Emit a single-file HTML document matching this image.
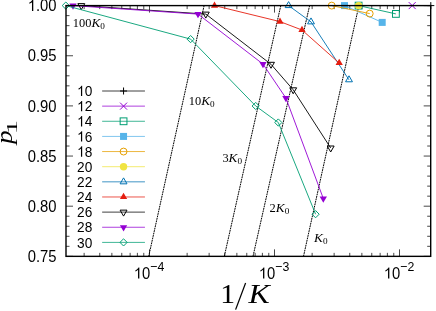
<!DOCTYPE html>
<html><head><meta charset="utf-8"><title>p1 vs 1/K</title>
<style>
html,body{margin:0;padding:0;background:#fff;}
body{width:436px;height:311px;overflow:hidden;position:relative;}
.t{font-family:"Liberation Sans",sans-serif;font-size:15.6px;fill:#000;}
.sup{font-family:"Liberation Sans",sans-serif;font-size:13.0px;fill:#000;}
.k{font-family:"Liberation Serif",serif;font-size:12.4px;fill:#000;}
.ks{font-size:9.2px;}
.lg{font-size:14.4px;}
.kk{font-size:13.3px;}
.ax{font-family:"Liberation Serif",serif;font-size:26.5px;fill:#000;}
.axs{font-size:18px;}
</style></head><body>
<svg width="436" height="311" viewBox="0 0 436 311" style="position:absolute;left:0;top:0;opacity:0.999;will-change:transform">
<rect x="0" y="0" width="436" height="311" fill="#ffffff"/>
<path d="M66.00 256.35h7.00M430.70 256.35h-7.00M66.00 246.32h3.50M430.70 246.32h-3.50M66.00 236.29h3.50M430.70 236.29h-3.50M66.00 226.26h3.50M430.70 226.26h-3.50M66.00 216.23h3.50M430.70 216.23h-3.50M66.00 206.20h7.00M430.70 206.20h-7.00M66.00 196.17h3.50M430.70 196.17h-3.50M66.00 186.14h3.50M430.70 186.14h-3.50M66.00 176.11h3.50M430.70 176.11h-3.50M66.00 166.08h3.50M430.70 166.08h-3.50M66.00 156.05h7.00M430.70 156.05h-7.00M66.00 146.02h3.50M430.70 146.02h-3.50M66.00 135.99h3.50M430.70 135.99h-3.50M66.00 125.96h3.50M430.70 125.96h-3.50M66.00 115.93h3.50M430.70 115.93h-3.50M66.00 105.90h7.00M430.70 105.90h-7.00M66.00 95.87h3.50M430.70 95.87h-3.50M66.00 85.84h3.50M430.70 85.84h-3.50M66.00 75.81h3.50M430.70 75.81h-3.50M66.00 65.78h3.50M430.70 65.78h-3.50M66.00 55.75h7.00M430.70 55.75h-7.00M66.00 45.72h3.50M430.70 45.72h-3.50M66.00 35.69h3.50M430.70 35.69h-3.50M66.00 25.66h3.50M430.70 25.66h-3.50M66.00 15.63h3.50M430.70 15.63h-3.50M66.00 5.60h7.00M430.70 5.60h-7.00M84.14 256.35v-3.50M84.14 5.60v3.50M99.76 256.35v-3.50M99.76 5.60v3.50M111.87 256.35v-3.50M111.87 5.60v3.50M121.77 256.35v-3.50M121.77 5.60v3.50M130.14 256.35v-3.50M130.14 5.60v3.50M137.39 256.35v-3.50M137.39 5.60v3.50M143.78 256.35v-3.50M143.78 5.60v3.50M149.50 256.35v-7.00M149.50 5.60v7.00M187.13 256.35v-3.50M187.13 5.60v3.50M209.14 256.35v-3.50M209.14 5.60v3.50M224.76 256.35v-3.50M224.76 5.60v3.50M236.87 256.35v-3.50M236.87 5.60v3.50M246.77 256.35v-3.50M246.77 5.60v3.50M255.14 256.35v-3.50M255.14 5.60v3.50M262.39 256.35v-3.50M262.39 5.60v3.50M268.78 256.35v-3.50M268.78 5.60v3.50M274.50 256.35v-7.00M274.50 5.60v7.00M312.13 256.35v-3.50M312.13 5.60v3.50M334.14 256.35v-3.50M334.14 5.60v3.50M349.76 256.35v-3.50M349.76 5.60v3.50M361.87 256.35v-3.50M361.87 5.60v3.50M371.77 256.35v-3.50M371.77 5.60v3.50M380.14 256.35v-3.50M380.14 5.60v3.50M387.39 256.35v-3.50M387.39 5.60v3.50M393.78 256.35v-3.50M393.78 5.60v3.50M399.50 256.35v-7.00M399.50 5.60v7.00" stroke="#000" stroke-width="0.72" fill="none"/>
<line x1="358.90" y1="5.60" x2="303.50" y2="256.35" stroke="#000" stroke-width="1" stroke-dasharray="1.8,0.7"/>
<line x1="309.60" y1="5.60" x2="253.00" y2="256.35" stroke="#000" stroke-width="1" stroke-dasharray="1.8,0.7"/>
<line x1="280.80" y1="5.60" x2="224.30" y2="256.35" stroke="#000" stroke-width="1" stroke-dasharray="1.8,0.7"/>
<line x1="204.10" y1="5.60" x2="148.70" y2="256.35" stroke="#000" stroke-width="1" stroke-dasharray="1.8,0.7"/>
<path d="M427.30 5.60H434.30M430.80 2.10V9.10" fill="none" stroke="#000000" stroke-width="1"/>
<path d="M408.70 2.10L415.70 9.10M408.70 9.10L415.70 2.10" fill="none" stroke="#9400d3" stroke-width="1"/>
<polyline points="358.60,5.60 395.90,13.90" fill="none" stroke="#009e73" stroke-width="0.9"/>
<rect x="355.20" y="2.20" width="6.80" height="6.80" fill="none" stroke="#009e73" stroke-width="1"/>
<rect x="392.50" y="10.50" width="6.80" height="6.80" fill="none" stroke="#009e73" stroke-width="1"/>
<polyline points="344.50,5.60 382.20,22.40" fill="none" stroke="#56b4e9" stroke-width="0.9"/>
<rect x="341.00" y="2.10" width="7.00" height="7.00" fill="#56b4e9"/>
<rect x="378.70" y="18.90" width="7.00" height="7.00" fill="#56b4e9"/>
<polyline points="331.70,5.60 369.70,13.60" fill="none" stroke="#e69f00" stroke-width="0.9"/>
<circle cx="331.70" cy="5.60" r="3.45" fill="none" stroke="#e69f00" stroke-width="1"/>
<circle cx="369.70" cy="13.60" r="3.45" fill="none" stroke="#e69f00" stroke-width="1"/>
<circle cx="358.60" cy="5.60" r="3.7" fill="#f0e442"/>
<polyline points="288.60,5.60 311.00,21.90 349.00,79.80" fill="none" stroke="#0072b2" stroke-width="0.9"/>
<path d="M288.60 1.62L292.05 7.59L285.15 7.59Z" fill="none" stroke="#0072b2" stroke-width="1"/>
<path d="M311.00 17.92L314.45 23.89L307.55 23.89Z" fill="none" stroke="#0072b2" stroke-width="1"/>
<path d="M349.00 75.82L352.45 81.79L345.55 81.79Z" fill="none" stroke="#0072b2" stroke-width="1"/>
<polyline points="214.50,5.60 280.00,21.60 302.00,30.00 339.20,63.00" fill="none" stroke="#e51e10" stroke-width="0.9"/>
<path d="M214.50 1.39L218.15 7.71L210.85 7.71Z" fill="#e51e10"/>
<path d="M280.00 17.39L283.65 23.71L276.35 23.71Z" fill="#e51e10"/>
<path d="M302.00 25.79L305.65 32.11L298.35 32.11Z" fill="#e51e10"/>
<path d="M339.20 58.79L342.85 65.11L335.55 65.11Z" fill="#e51e10"/>
<polyline points="81.30,5.60 205.80,14.10 271.00,64.30 293.20,89.80 330.70,148.00" fill="none" stroke="#000000" stroke-width="0.9"/>
<path d="M81.30 9.58L84.75 3.61L77.85 3.61Z" fill="none" stroke="#000000" stroke-width="1"/>
<path d="M205.80 18.08L209.25 12.11L202.35 12.11Z" fill="none" stroke="#000000" stroke-width="1"/>
<path d="M271.00 68.28L274.45 62.31L267.55 62.31Z" fill="none" stroke="#000000" stroke-width="1"/>
<path d="M293.20 93.78L296.65 87.81L289.75 87.81Z" fill="none" stroke="#000000" stroke-width="1"/>
<path d="M330.70 151.98L334.15 146.01L327.25 146.01Z" fill="none" stroke="#000000" stroke-width="1"/>
<polyline points="73.00,5.60 198.00,14.10 263.00,64.10 285.90,98.00 323.30,198.50" fill="none" stroke="#9400d3" stroke-width="0.9"/>
<path d="M73.00 9.81L76.65 3.49L69.35 3.49Z" fill="#9400d3"/>
<path d="M198.00 18.31L201.65 11.99L194.35 11.99Z" fill="#9400d3"/>
<path d="M263.00 68.31L266.65 61.99L259.35 61.99Z" fill="#9400d3"/>
<path d="M285.90 102.21L289.55 95.89L282.25 95.89Z" fill="#9400d3"/>
<path d="M323.30 202.71L326.95 196.39L319.65 196.39Z" fill="#9400d3"/>
<polyline points="65.80,5.60 190.60,39.10 255.70,106.00 278.30,122.50 315.60,214.20" fill="none" stroke="#009e73" stroke-width="0.9"/>
<path d="M62.20 5.60L65.80 2.00L69.40 5.60L65.80 9.20Z" fill="none" stroke="#009e73" stroke-width="1"/>
<path d="M187.00 39.10L190.60 35.50L194.20 39.10L190.60 42.70Z" fill="none" stroke="#009e73" stroke-width="1"/>
<path d="M252.10 106.00L255.70 102.40L259.30 106.00L255.70 109.60Z" fill="none" stroke="#009e73" stroke-width="1"/>
<path d="M274.70 122.50L278.30 118.90L281.90 122.50L278.30 126.10Z" fill="none" stroke="#009e73" stroke-width="1"/>
<path d="M312.00 214.20L315.60 210.60L319.20 214.20L315.60 217.80Z" fill="none" stroke="#009e73" stroke-width="1"/>
<rect x="66.00" y="5.60" width="364.70" height="250.75" fill="none" stroke="#000" stroke-width="1.4"/>
<text transform="translate(92.30,96.10) scale(0.950,1)" text-anchor="end" class="t" style="font-size:14.40px">0</text><path transform="translate(77.08,96.10) scale(0.00668,-0.00703)" d="M763 0H583V1147Q518 1085 412.5 1023Q307 961 223 930V1104Q374 1175 487 1276Q600 1377 647 1472H763Z" fill="#000"/>
<line x1="102.15" y1="91.00" x2="144.95" y2="91.00" stroke="#000000" stroke-width="1" opacity="0.75"/>
<path d="M120.05 91.00H127.05M123.55 87.50V94.50" fill="none" stroke="#000000" stroke-width="1"/>
<text transform="translate(92.30,111.24) scale(0.950,1)" text-anchor="end" class="t" style="font-size:14.40px">2</text><path transform="translate(77.08,111.24) scale(0.00668,-0.00703)" d="M763 0H583V1147Q518 1085 412.5 1023Q307 961 223 930V1104Q374 1175 487 1276Q600 1377 647 1472H763Z" fill="#000"/>
<line x1="102.15" y1="106.14" x2="144.95" y2="106.14" stroke="#9400d3" stroke-width="1" opacity="0.75"/>
<path d="M120.05 102.64L127.05 109.64M120.05 109.64L127.05 102.64" fill="none" stroke="#9400d3" stroke-width="1"/>
<text transform="translate(92.30,126.38) scale(0.950,1)" text-anchor="end" class="t" style="font-size:14.40px">4</text><path transform="translate(77.08,126.38) scale(0.00668,-0.00703)" d="M763 0H583V1147Q518 1085 412.5 1023Q307 961 223 930V1104Q374 1175 487 1276Q600 1377 647 1472H763Z" fill="#000"/>
<line x1="102.15" y1="121.28" x2="144.95" y2="121.28" stroke="#009e73" stroke-width="1" opacity="0.75"/>
<rect x="120.15" y="117.88" width="6.80" height="6.80" fill="none" stroke="#009e73" stroke-width="1"/>
<text transform="translate(92.30,141.52) scale(0.950,1)" text-anchor="end" class="t" style="font-size:14.40px">6</text><path transform="translate(77.08,141.52) scale(0.00668,-0.00703)" d="M763 0H583V1147Q518 1085 412.5 1023Q307 961 223 930V1104Q374 1175 487 1276Q600 1377 647 1472H763Z" fill="#000"/>
<line x1="102.15" y1="136.42" x2="144.95" y2="136.42" stroke="#56b4e9" stroke-width="1" opacity="0.75"/>
<rect x="120.05" y="132.92" width="7.00" height="7.00" fill="#56b4e9"/>
<text transform="translate(92.30,156.66) scale(0.950,1)" text-anchor="end" class="t" style="font-size:14.40px">8</text><path transform="translate(77.08,156.66) scale(0.00668,-0.00703)" d="M763 0H583V1147Q518 1085 412.5 1023Q307 961 223 930V1104Q374 1175 487 1276Q600 1377 647 1472H763Z" fill="#000"/>
<line x1="102.15" y1="151.56" x2="144.95" y2="151.56" stroke="#e69f00" stroke-width="1" opacity="0.75"/>
<circle cx="123.55" cy="151.56" r="3.45" fill="none" stroke="#e69f00" stroke-width="1"/>
<text transform="translate(92.30,171.80) scale(0.950,1)" text-anchor="end" class="t" style="font-size:14.40px">20</text>
<line x1="102.15" y1="166.70" x2="144.95" y2="166.70" stroke="#f0e442" stroke-width="1" opacity="0.75"/>
<circle cx="123.55" cy="166.70" r="3.7" fill="#f0e442"/>
<text transform="translate(92.30,186.94) scale(0.950,1)" text-anchor="end" class="t" style="font-size:14.40px">22</text>
<line x1="102.15" y1="181.84" x2="144.95" y2="181.84" stroke="#0072b2" stroke-width="1" opacity="0.75"/>
<path d="M123.55 177.86L127.00 183.83L120.10 183.83Z" fill="none" stroke="#0072b2" stroke-width="1"/>
<text transform="translate(92.30,202.08) scale(0.950,1)" text-anchor="end" class="t" style="font-size:14.40px">24</text>
<line x1="102.15" y1="196.98" x2="144.95" y2="196.98" stroke="#e51e10" stroke-width="1" opacity="0.75"/>
<path d="M123.55 192.77L127.20 199.09L119.90 199.09Z" fill="#e51e10"/>
<text transform="translate(92.30,217.22) scale(0.950,1)" text-anchor="end" class="t" style="font-size:14.40px">26</text>
<line x1="102.15" y1="212.12" x2="144.95" y2="212.12" stroke="#000000" stroke-width="1" opacity="0.75"/>
<path d="M123.55 216.10L127.00 210.13L120.10 210.13Z" fill="none" stroke="#000000" stroke-width="1"/>
<text transform="translate(92.30,232.36) scale(0.950,1)" text-anchor="end" class="t" style="font-size:14.40px">28</text>
<line x1="102.15" y1="227.26" x2="144.95" y2="227.26" stroke="#9400d3" stroke-width="1" opacity="0.75"/>
<path d="M123.55 231.47L127.20 225.15L119.90 225.15Z" fill="#9400d3"/>
<text transform="translate(92.30,247.50) scale(0.950,1)" text-anchor="end" class="t" style="font-size:14.40px">30</text>
<line x1="102.15" y1="242.40" x2="144.95" y2="242.40" stroke="#009e73" stroke-width="1" opacity="0.75"/>
<path d="M119.95 242.40L123.55 238.80L127.15 242.40L123.55 246.00Z" fill="none" stroke="#009e73" stroke-width="1"/>
<text transform="translate(56.60,10.90) scale(0.950,1)" text-anchor="end" class="t" style="font-size:15.60px">.00</text><path transform="translate(27.76,10.90) scale(0.00724,-0.00762)" d="M763 0H583V1147Q518 1085 412.5 1023Q307 961 223 930V1104Q374 1175 487 1276Q600 1377 647 1472H763Z" fill="#000"/>
<text transform="translate(56.60,61.10) scale(0.950,1)" text-anchor="end" class="t" style="font-size:15.60px">0.95</text>
<text transform="translate(56.60,111.50) scale(0.950,1)" text-anchor="end" class="t" style="font-size:15.60px">0.90</text>
<text transform="translate(56.60,161.80) scale(0.950,1)" text-anchor="end" class="t" style="font-size:15.60px">0.85</text>
<text transform="translate(56.60,212.10) scale(0.950,1)" text-anchor="end" class="t" style="font-size:15.60px">0.80</text>
<text transform="translate(56.60,262.40) scale(0.950,1)" text-anchor="end" class="t" style="font-size:15.60px">0.75</text>
<text transform="translate(150.30,278.60) scale(0.950,1)" text-anchor="end" class="t" style="font-size:15.60px">0</text><path transform="translate(133.82,278.60) scale(0.00724,-0.00762)" d="M763 0H583V1147Q518 1085 412.5 1023Q307 961 223 930V1104Q374 1175 487 1276Q600 1377 647 1472H763Z" fill="#000"/>
<text transform="translate(150.30,271.1) scale(0.950,1)" text-anchor="start" class="sup">−4</text>
<text transform="translate(275.30,278.60) scale(0.950,1)" text-anchor="end" class="t" style="font-size:15.60px">0</text><path transform="translate(258.82,278.60) scale(0.00724,-0.00762)" d="M763 0H583V1147Q518 1085 412.5 1023Q307 961 223 930V1104Q374 1175 487 1276Q600 1377 647 1472H763Z" fill="#000"/>
<text transform="translate(275.30,271.1) scale(0.950,1)" text-anchor="start" class="sup">−3</text>
<text transform="translate(400.30,278.60) scale(0.950,1)" text-anchor="end" class="t" style="font-size:15.60px">0</text><path transform="translate(383.82,278.60) scale(0.00724,-0.00762)" d="M763 0H583V1147Q518 1085 412.5 1023Q307 961 223 930V1104Q374 1175 487 1276Q600 1377 647 1472H763Z" fill="#000"/>
<text transform="translate(400.30,271.1) scale(0.950,1)" text-anchor="start" class="sup">−2</text>
<text transform="translate(72.80,27.30) scale(1.0,1)" class="k">100<tspan font-style="italic" class="kk">K</tspan><tspan class="ks" dy="1.9">0</tspan></text>
<text transform="translate(188.80,105.20) scale(1.0,1)" class="k">10<tspan font-style="italic" class="kk">K</tspan><tspan class="ks" dy="1.9">0</tspan></text>
<text transform="translate(222.40,162.00) scale(1.0,1)" class="k">3<tspan font-style="italic" class="kk">K</tspan><tspan class="ks" dy="1.9">0</tspan></text>
<text transform="translate(269.60,212.20) scale(1.0,1)" class="k">2<tspan font-style="italic" class="kk">K</tspan><tspan class="ks" dy="1.9">0</tspan></text>
<text transform="translate(314.00,241.80) scale(1.0,1)" class="k"><tspan font-style="italic" class="kk">K</tspan><tspan class="ks" dy="1.9">0</tspan></text>
<text transform="translate(220.2,302.9) scale(1.12,1)" class="ax">1</text>
<line x1="235.6" y1="309.6" x2="245.6" y2="283.0" stroke="#000" stroke-width="1.25"/>
<text transform="translate(248.6,302.9) scale(1.2,1)" class="ax" font-style="italic">K</text>
<text transform="translate(12.3,144.0) rotate(-90) scale(1.15,1)" class="ax" style="font-size:23.8px" font-style="italic">p</text>
<text transform="translate(16.8,134.2) rotate(-90) scale(2.05,1)" class="ax" style="font-size:14px">1</text>
</svg>
</body></html>
